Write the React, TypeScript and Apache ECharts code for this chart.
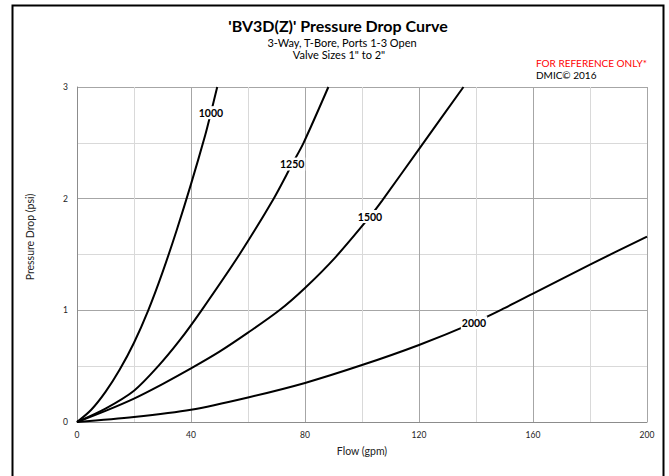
import React, { useEffect, useRef } from "react";
import * as echarts from "echarts";

const xTicks = [0, 40, 80, 120, 160, 200];
const yTicks = [0, 1, 2, 3];

const s1000x = [0, 5, 10, 15, 20, 25, 30, 35, 40, 45, 47, 49.2];
const s1000y = [0, 0.11, 0.27, 0.47, 0.71, 1.0, 1.34, 1.72, 2.13, 2.57, 2.77, 3.0];

const s1250x = [0, 10, 20, 28.5, 36, 43.7, 57, 69, 75.5, 79.5, 88.2];
const s1250y = [0, 0.12, 0.28, 0.5, 0.73, 1.0, 1.5, 2.0, 2.31, 2.5, 3.0];

const s1500x = [0, 10, 20, 30, 40, 50, 60, 71, 80, 90.5, 102.8, 107, 121, 135.6];
const s1500y = [0, 0.1, 0.21, 0.34, 0.48, 0.63, 0.8, 1.0, 1.2, 1.47, 1.84, 1.98, 2.48, 3.0];

const s2000x = [0, 20, 40, 60, 80, 100, 120, 139.3, 150, 160, 180, 200];
const s2000y = [0, 0.045, 0.11, 0.22, 0.35, 0.51, 0.69, 0.89, 1.02, 1.15, 1.41, 1.66];

const seriesNames = ["1000", "1250", "1500", "2000"];
const labelIndex = [10, 8, 10, 7];

const FONT = "Lato, 'Open Sans', sans-serif";

export default function App() {
  const ref = useRef<HTMLDivElement>(null);
  useEffect(() => {
    if (!ref.current) return;
    const chart = echarts.init(ref.current, null, { renderer: "svg" });
    const xs = [s1000x, s1250x, s1500x, s2000x];
    const ys = [s1000y, s1250y, s1500y, s2000y];
    const series = seriesNames.map((name, si) => ({
      name,
      type: "line",
      smooth: 0.3,
      showSymbol: true,
      symbol: "circle",
      symbolSize: 0,
      lineStyle: { color: "#000", width: 2 },
      itemStyle: { color: "#000" },
      z: 3,
      data: xs[si].map((x, i) =>
        i === labelIndex[si]
          ? {
              value: [x, ys[si][i]],
              label: {
                show: true,
                position: "inside",
                formatter: name,
                backgroundColor: "#fff",
                padding: [1, 1],
                color: "#000",
                fontWeight: "bold",
                fontSize: 10.5,
                fontFamily: FONT,
              },
            }
          : [x, ys[si][i]]
      ),
    }));
    chart.setOption({
      animation: false,
      backgroundColor: "#fff",
      grid: { left: 77, top: 87, right: 22, bottom: 54, containLabel: false },
      xAxis: {
        type: "value",
        min: xTicks[0],
        max: xTicks[xTicks.length - 1],
        interval: 40,
        name: "Flow (gpm)",
        nameLocation: "middle",
        nameGap: 23,
        nameTextStyle: { fontFamily: FONT, fontSize: 10.5, color: "#222" },
        axisLine: { show: true, lineStyle: { color: "#8c8c8c", width: 1 } },
        axisTick: { show: false },
        axisLabel: { fontFamily: FONT, fontSize: 8.5, color: "#222", margin: 8 },
        splitLine: { show: true, lineStyle: { color: "#a6a6a6", width: 1 } },
        minorTick: { show: false, splitNumber: 2 },
        minorSplitLine: { show: true, lineStyle: { color: "#d9d9d9", width: 1 } },
      },
      yAxis: {
        type: "value",
        min: yTicks[0],
        max: yTicks[yTicks.length - 1],
        interval: 1,
        axisLine: { show: true, lineStyle: { color: "#8c8c8c", width: 1 } },
        axisTick: { show: false },
        axisLabel: { fontFamily: FONT, fontSize: 8.5, color: "#222", margin: 9 },
        splitLine: { show: true, lineStyle: { color: "#a6a6a6", width: 1 } },
        minorTick: { show: false, splitNumber: 2 },
        minorSplitLine: { show: true, lineStyle: { color: "#d9d9d9", width: 1 } },
      },
      series,
      graphic: [
        {
          type: "rect",
          shape: { x: 12.5, y: 5.5, width: 651, height: 490 },
          style: { fill: "none", stroke: "#000", lineWidth: 2 },
          silent: true,
        },
        {
          type: "text",
          x: 338,
          y: 25,
          style: {
            text: "'BV3D(Z)' Pressure Drop Curve",
            fontFamily: FONT,
            fontWeight: "bold",
            fontSize: 16,
            fill: "#000",
            align: "center",
            verticalAlign: "middle",
          },
        },
        {
          type: "text",
          x: 342,
          y: 42.5,
          style: {
            text: "3-Way, T-Bore, Ports 1-3 Open",
            fontFamily: FONT,
            fontSize: 11,
            fill: "#000",
            align: "center",
            verticalAlign: "middle",
          },
        },
        {
          type: "text",
          x: 339,
          y: 54,
          style: {
            text: 'Valve Sizes 1" to 2"',
            fontFamily: FONT,
            fontSize: 11,
            fill: "#000",
            align: "center",
            verticalAlign: "middle",
          },
        },
        {
          type: "text",
          x: 536,
          y: 62.5,
          style: {
            text: "FOR REFERENCE ONLY*",
            fontFamily: FONT,
            fontSize: 10,
            fill: "#ff0000",
            align: "left",
            verticalAlign: "middle",
          },
        },
        {
          type: "text",
          x: 536,
          y: 75,
          style: {
            text: "DMIC© 2016",
            fontFamily: FONT,
            fontSize: 10,
            fill: "#000",
            align: "left",
            verticalAlign: "middle",
          },
        },
        {
          type: "text",
          x: 30,
          y: 237,
          rotation: Math.PI / 2,
          style: {
            text: "Pressure Drop (psi)",
            fontFamily: FONT,
            fontSize: 10.5,
            fill: "#222",
            align: "center",
            verticalAlign: "middle",
          },
        },
      ],
    });
    return () => chart.dispose();
  }, []);
  return (
    <div
      ref={ref}
      style={{ position: "fixed", left: 0, top: 0, width: 669, height: 476 }}
    />
  );
}
